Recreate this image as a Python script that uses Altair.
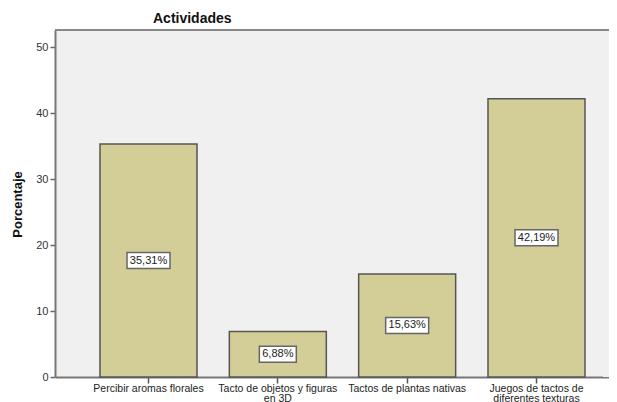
import altair as alt
import pandas as pd

categories = [
    "Percibir aromas florales",
    "Tacto de objetos y figuras\nen 3D",
    "Tactos de plantas nativas",
    "Juegos de tactos de\ndiferentes texturas",
]
values = [35.31, 6.88, 15.63, 42.19]
labels = ["35,31%", "6,88%", "15,63%", "42,19%"]
y_ticks = [0, 10, 20, 30, 40, 50]

df = pd.DataFrame({"cat": categories, "val": values, "lab": labels})

W, H = 554, 347
FONT = "Liberation Sans"

x_enc = alt.X(
    "cat:N",
    sort=categories,
    title=None,
    scale=alt.Scale(range=[0, 575], paddingInner=0.25, paddingOuter=0.348),
    axis=alt.Axis(
        labelAngle=0,
        labelExpr="split(datum.value, '\\n')",
        labelFont=FONT,
        labelFontSize=10.5,
        labelColor="#222222",
        labelLineHeight=10.5,
        labelPadding=0,
        tickSize=6,
        tickColor="#555555",
        tickWidth=1.5,
        domainColor="#777777",
        domainWidth=2,
        labelLimit=200,
    ),
)

y_enc = alt.Y(
    "val:Q",
    scale=alt.Scale(domain=[0, 52.6], nice=False),
    axis=alt.Axis(
        title="Porcentaje",
        values=y_ticks,
        grid=False,
        labelFont=FONT,
        labelFontSize=11,
        labelColor="#333333",
        labelPadding=2,
        tickSize=5,
        tickColor="#666666",
        tickWidth=1.5,
        domainColor="#777777",
        domainWidth=2,
        titleFont=FONT,
        titleFontSize=13,
        titleFontWeight="bold",
        titleColor="#111111",
        titleX=-38,
        titleY=174,
        titleAngle=-90,
        titleAlign="center",
        titleBaseline="middle",
    ),
)

edge_fill = alt.Chart(df).mark_rect(fill="#f0f0f0", clip=False).encode(
    x=alt.value(W - 6), x2=alt.value(W + 20), y=alt.value(1), y2=alt.value(H)
)

bars = alt.Chart(df).mark_bar(
    fill="#d3ce97", stroke="#555555", strokeWidth=1.5
).encode(x=x_enc, y=y_enc)

box_w = "M-0.977,-0.364L0.977,-0.364L0.977,0.364L-0.977,0.364Z"
box_n = "M-0.84,-0.364L0.84,-0.364L0.84,0.364L-0.84,0.364Z"

boxes = alt.Chart(df).transform_calculate(
    mid="datum.val / 2",
    narrow="length(datum.lab) < 6 ? 'n' : 'w'",
).mark_point(
    filled=True, fill="white", stroke="#666666", strokeWidth=1.5, size=1936, opacity=1
).encode(
    x=alt.X("cat:N", sort=categories),
    y=alt.Y("mid:Q"),
    shape=alt.Shape("narrow:N", scale=alt.Scale(domain=["w", "n"], range=[box_w, box_n]), legend=None),
)

texts = alt.Chart(df).transform_calculate(mid="datum.val / 2").mark_text(
    font=FONT, fontSize=11, color="#222222", baseline="middle", align="center"
).encode(
    x=alt.X("cat:N", sort=categories),
    y=alt.Y("mid:Q"),
    text="lab:N",
)

top_border = alt.Chart(df).mark_rule(color="#888888", strokeWidth=2).encode(
    x=alt.value(0), x2=alt.value(W + 20), y=alt.value(0)
)

title = alt.Chart(pd.DataFrame({"t": ["Actividades"]})).mark_text(
    font=FONT, fontSize=14, fontWeight="bold", color="#111111", align="left", baseline="middle"
).encode(x=alt.value(98), y=alt.value(-11), text="t:N")

chart = alt.layer(edge_fill, bars, boxes, texts, top_border, title).properties(
    width=W,
    height=H,
    autosize=alt.AutoSizeParams(type="none"),
    padding={"left": 47, "top": 22, "right": 0, "bottom": 25},
    background="white",
).configure_view(fill="#f0f0f0", strokeOpacity=0, strokeWidth=0)

chart.save("out.html", embed_options={"renderer": "svg", "actions": False})
